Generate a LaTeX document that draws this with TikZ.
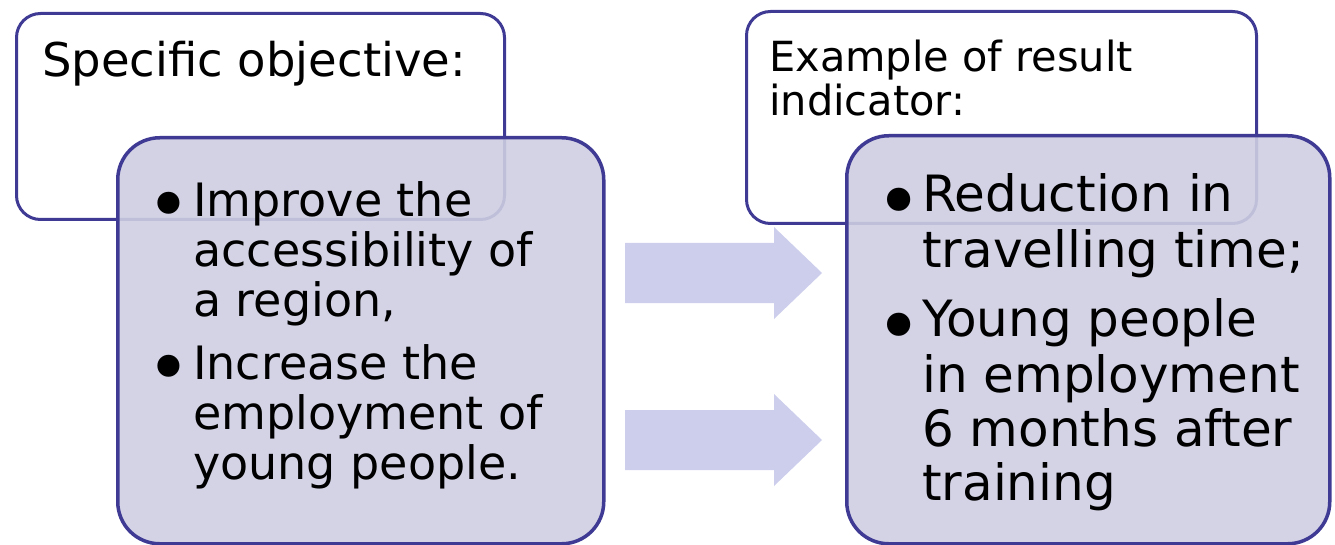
\documentclass[tikz,border=0pt]{standalone}
\usepackage{fontspec}
\setmainfont{DejaVu Sans}

\definecolor{boxline}{RGB}{63,58,148}
\definecolor{boxfill}{RGB}{206,206,226}
\definecolor{arrowfill}{RGB}{204,206,236}

% bullet column: width, bullet size and drop set per list
\newlength\bulletw
\newlength\bulletdrop
\def\bulletsize{78}
\newcommand\bulletmark{\makebox[\bulletw][l]{%
  \raisebox{-\bulletdrop}{\fontsize{\bulletsize}{0}\selectfont\textbullet}}}

\begin{document}
\begin{tikzpicture}[x=1pt,y=-1pt,
  headbox/.style={draw=boxline, line width=3pt, fill=white, rounded corners=24pt,
    anchor=north west, inner sep=0pt},
  listbox/.style={draw=boxline, line width=3.5pt, fill=boxfill, fill opacity=0.9,
    rounded corners=42pt, anchor=north west, inner sep=0pt},
  textblock/.style={anchor=base west, inner sep=0pt},
  flowarrow/.style={fill=arrowfill}]
\useasboundingbox (0,0) rectangle (1335,545);

% objective side
\node[headbox, minimum width=488pt, minimum height=206pt] (objective) at (15,12) {};
\node[listbox, minimum width=486pt, minimum height=406pt] (objectives) at (116,136) {};

% indicator side
\node[headbox, minimum width=510pt, minimum height=212pt] (indicator) at (745,10) {};
\node[listbox, minimum width=483pt, minimum height=408pt] (indicators) at (845,134) {};

% block arrows between the two sides
\foreach \y in {273,440}
  \fill[flowarrow] (625,\y-30) -- (774,\y-30) -- (774,\y-46) -- (822,\y)
    -- (774,\y+46) -- (774,\y+30) -- (625,\y+30) -- cycle;

% texts
\node[textblock, font=\fontsize{46.5}{41}\selectfont] (objtitle) at (42,77)
  {Specific objective:};
\node[textblock, font=\fontsize{41.5}{41}\selectfont] (indtitle) at (769,72)
  {\begin{tabular}[t]{@{}l@{}}Example of result\\indicator:\end{tabular}};

\node[textblock, font=\fontsize{46}{49.5}\selectfont] (objitems) at (146,217)
  {\setlength\bulletw{47pt}\setlength\bulletdrop{15pt}\def\bulletsize{76}%
   \begin{tabular}[t]{@{}l@{}l@{}}
   \bulletmark & Improve the\\
               & accessibility of\\
               & a region,\\[13pt]
   \bulletmark & Increase the\\
               & employment of\\
               & young people.
   \end{tabular}};
\node[textblock, font=\fontsize{50}{53.5}\selectfont] (inditems) at (875,212)
  {\setlength\bulletw{47pt}\setlength\bulletdrop{18pt}\def\bulletsize{80}%
   \begin{tabular}[t]{@{}l@{}l@{}}
   \bulletmark & Reduction in\\
               & travelling time;\\[14pt]
   \bulletmark & Young people\\
               & in employment\\
               & 6 months after\\
               & training
   \end{tabular}};
\end{tikzpicture}
\end{document}
